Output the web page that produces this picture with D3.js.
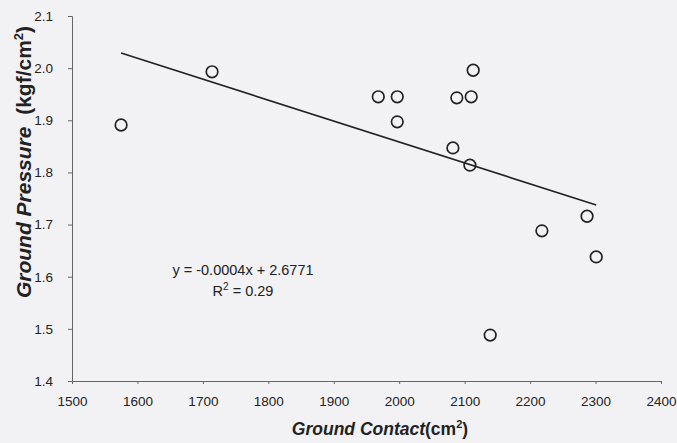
<!DOCTYPE html>
<html><head><meta charset="utf-8">
<script src="https://cdn.jsdelivr.net/npm/d3@7"></script>
<style>
html,body{margin:0;padding:0;background:#f2f2f4;}
svg{display:block;font-family:"Liberation Sans",Arial,sans-serif;}
</style></head><body>
<div id="chart"></div>
<script>
const contact = [1575, 1714, 1968, 1997, 1997, 2113, 2088, 2110, 2082, 2108, 2287, 2218, 2301, 2139];
const pressure = [1.891, 1.993, 1.945, 1.945, 1.897, 1.996, 1.943, 1.945, 1.847, 1.814, 1.716, 1.688, 1.638, 1.488];
const trendX = [1575, 2301];
const trendY = [2.029, 1.7375];
const xTicks = [1500, 1600, 1700, 1800, 1900, 2000, 2100, 2200, 2300, 2400];
const yTicks = [1.4, 1.5, 1.6, 1.7, 1.8, 1.9, 2.0, 2.1];
const equationText = "y = -0.0004x + 2.6771";
const r2Value = "0.29";

const W = 677, H = 443;
const svg = d3.select("#chart").append("svg").attr("width", W).attr("height", H);
svg.append("rect").attr("width", W).attr("height", H).attr("fill", "#f2f2f4");

const x = d3.scaleLinear().domain([1500, 2400]).range([72, 661]);
const y = d3.scaleLinear().domain([1.4, 2.1]).range([381, 16]);

const xAxis = svg.append("g").attr("transform", `translate(0,${y(1.4)})`)
  .call(d3.axisBottom(x).tickValues(xTicks).tickSize(3).tickPadding(12).tickFormat(d3.format("d")));
const yAxis = svg.append("g").attr("transform", `translate(${x(1500)},0)`)
  .call(d3.axisLeft(y).tickValues(yTicks).tickSize(4).tickPadding(15).tickFormat(d3.format(".1f")));
[xAxis, yAxis].forEach(g => {
  g.select(".domain").attr("stroke", "#666").attr("stroke-width", 1);
  g.selectAll(".tick line").attr("stroke", "#666");
  g.selectAll(".tick text").attr("fill", "#222").style("font-size", "13.5px")
    .style("font-family", "'Liberation Sans',Arial,sans-serif");
});

// trend line
svg.append("line")
  .attr("x1", x(trendX[0])).attr("y1", y(trendY[0]))
  .attr("x2", x(trendX[1])).attr("y2", y(trendY[1]))
  .attr("stroke", "#222").attr("stroke-width", 1.6);

// points
svg.append("g").selectAll("circle").data(contact.map((c, i) => [c, pressure[i]]))
  .join("circle")
  .attr("cx", d => x(d[0])).attr("cy", d => y(d[1])).attr("r", 5.8)
  .attr("fill", "none").attr("stroke", "#222").attr("stroke-width", 1.7);

// equation
svg.append("text").attr("x", 243).attr("y", 275).attr("text-anchor", "middle")
  .style("font-size", "14.5px").attr("fill", "#222").text(equationText);
const r2 = svg.append("text").attr("x", 243).attr("y", 296).attr("text-anchor", "middle")
  .style("font-size", "14.5px").attr("fill", "#222");
r2.append("tspan").text("R");
r2.append("tspan").attr("dy", -6).style("font-size", "10px").text("2");
r2.append("tspan").attr("dy", 6).text(" = " + r2Value);

// axis titles
const xt = svg.append("text").attr("x", 380).attr("y", 435).attr("text-anchor", "middle")
  .style("font-size", "17.5px").style("font-weight", "bold").attr("fill", "#222");
xt.append("tspan").style("font-style", "italic").text("Ground Contact");
xt.append("tspan").text("(cm");
xt.append("tspan").attr("dy", -7).style("font-size", "11px").text("2");
xt.append("tspan").attr("dy", 7).text(")");

const yt = svg.append("text").attr("transform", "translate(31,162) rotate(-90)").attr("text-anchor", "middle")
  .style("font-size", "21px").style("font-weight", "bold").style("white-space", "pre")
  .attr("xml:space", "preserve").attr("fill", "#222");
yt.append("tspan").style("font-style", "italic").text("Ground Pressure");
yt.append("tspan").text("  (kgf/cm");
yt.append("tspan").attr("dy", -8).style("font-size", "13px").text("2");
yt.append("tspan").attr("dy", 8).text(")");
</script>
</body></html>
